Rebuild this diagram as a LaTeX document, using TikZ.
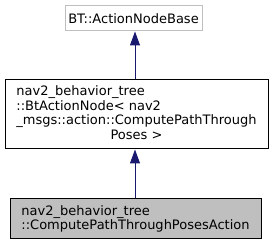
\documentclass[tikz,border=0pt]{standalone}
\usepackage{fontspec}
\setmainfont{DejaVu Sans}
\usepackage{xcolor}
\usetikzlibrary{arrows.meta, positioning}
\definecolor{edgeblue}{RGB}{25,25,112}
\definecolor{basegray}{RGB}{191,191,191}

\begin{document}
\begin{tikzpicture}[
    x=1pt, y=1pt,
    font=\fontsize{13}{14.5}\selectfont,
    klass/.style={
        rectangle,
        draw,
        line width=1pt,
        inner sep=0pt,
        align=left
    },
    inherit/.style={
        draw=edgeblue,
        line width=1pt,
        -{Triangle[length=14pt, width=10pt]}
    }
]
\useasboundingbox (0,0) rectangle (271,-245);

\node[klass, draw=basegray, minimum width=137pt, minimum height=25pt] (base) at (133.5,-18.5) {BT::ActionNodeBase};

\node[klass, minimum width=263pt, minimum height=69pt] (btnode) at (136.5,-114.5) {\begin{tabular}{@{}l@{}}nav2\_behavior\_tree\\::BtActionNode< nav2\\\_msgs::action::ComputePathThrough\\\multicolumn{1}{@{}c@{}}{Poses >}\end{tabular}};

\node[klass, fill=basegray, minimum width=251pt, minimum height=40pt] (action) at (135.5,-219) {nav2\_behavior\_tree\\::ComputePathThroughPosesAction};

\draw[inherit] (btnode.north -| 135,0) -- (base.south -| 135,0);
\draw[inherit] (action.north -| 135,0) -- (btnode.south -| 135,0);

\end{tikzpicture}
\end{document}
